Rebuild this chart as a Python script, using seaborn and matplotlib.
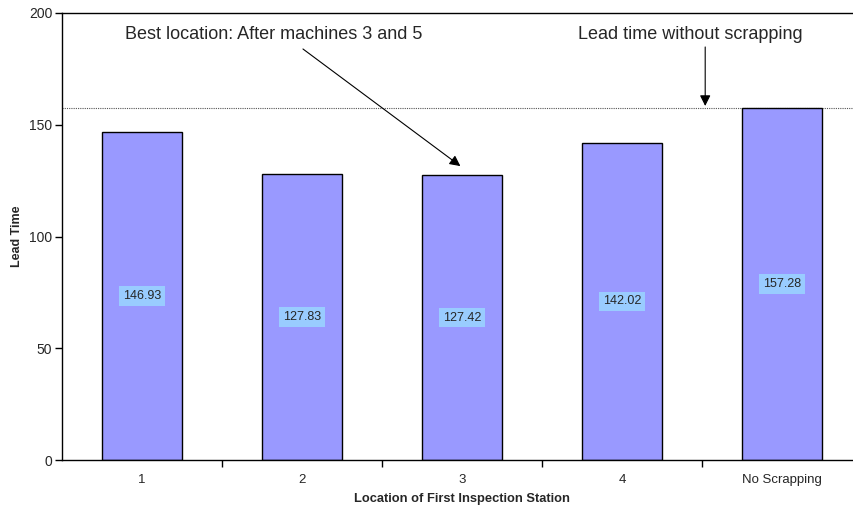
import matplotlib
matplotlib.use("Agg")
import matplotlib.pyplot as plt
import seaborn as sns
import pandas as pd
from matplotlib.ticker import FixedLocator

categories = ["1", "2", "3", "4", "No Scrapping"]
lead_times = [146.93, 127.83, 127.42, 142.02, 157.28]
value_labels = ["146.93", "127.83", "127.42", "142.02", "157.28"]
reference_value = 157.28

sns.set_theme(style="white")
plt.rcParams['font.family'] = ['Liberation Sans', 'DejaVu Sans']

df = pd.DataFrame({"Location": categories, "LeadTime": lead_times})

fig = plt.figure(figsize=(8.54, 5.12), dpi=100)
ax = fig.add_axes([62/854, 52/512, 800/854, 447/512])

sns.barplot(data=df, x="Location", y="LeadTime", color="#9999FF",
            edgecolor="black", linewidth=1.0, width=0.5, saturation=1, ax=ax)

ax.set_ylim(0, 200)
ax.set_xlim(-0.5, len(categories) - 0.5)
ax.set_yticks([0, 50, 100, 150, 200])
ax.tick_params(axis="y", which="major", direction="out", length=5, width=1,
               color="black", labelsize=10, left=True, pad=2)
ax.tick_params(axis="x", which="major", length=0, labelsize=9.5, pad=10)
ax.xaxis.set_minor_locator(FixedLocator([i + 0.5 for i in range(len(categories) - 1)]))
ax.tick_params(axis="x", which="minor", direction="out", length=5, width=1,
               color="black", bottom=True)

for s in ["left", "bottom", "top"]:
    ax.spines[s].set_color("black")
    ax.spines[s].set_linewidth(1.0)
ax.spines["right"].set_visible(False)

ax.set_xlabel("Location of First Inspection Station", fontsize=9.3, fontweight="bold", labelpad=5)
ax.set_ylabel("Lead Time", fontsize=9, fontweight="bold", labelpad=4)

for i, (v, lab) in enumerate(zip(lead_times, value_labels)):
    ax.text(i, v / 2, lab, ha="center", va="center", fontsize=9,
            bbox=dict(boxstyle="square,pad=0.3", facecolor="#99CCFF", edgecolor="none"))

ax.axhline(reference_value, color="#555555", linestyle=(0, (1, 1)), linewidth=0.8, zorder=0)

ax.text(0.82, 190.5, "Best location: After machines 3 and 5", ha="center", va="center", fontsize=13)
ax.annotate("", xy=(1.99, 131.5), xytext=(1.006, 183.9),
            arrowprops=dict(arrowstyle="-|>", color="black", lw=0.8,
                            shrinkA=0, shrinkB=0, mutation_scale=16))
ax.text(3.43, 190.5, "Lead time without scrapping", ha="center", va="center", fontsize=13)
ax.annotate("", xy=(3.52, 158.4), xytext=(3.52, 184.8),
            arrowprops=dict(arrowstyle="-|>", color="black", lw=0.8,
                            shrinkA=0, shrinkB=0, mutation_scale=16))

fig.savefig("out.png", dpi=100)
